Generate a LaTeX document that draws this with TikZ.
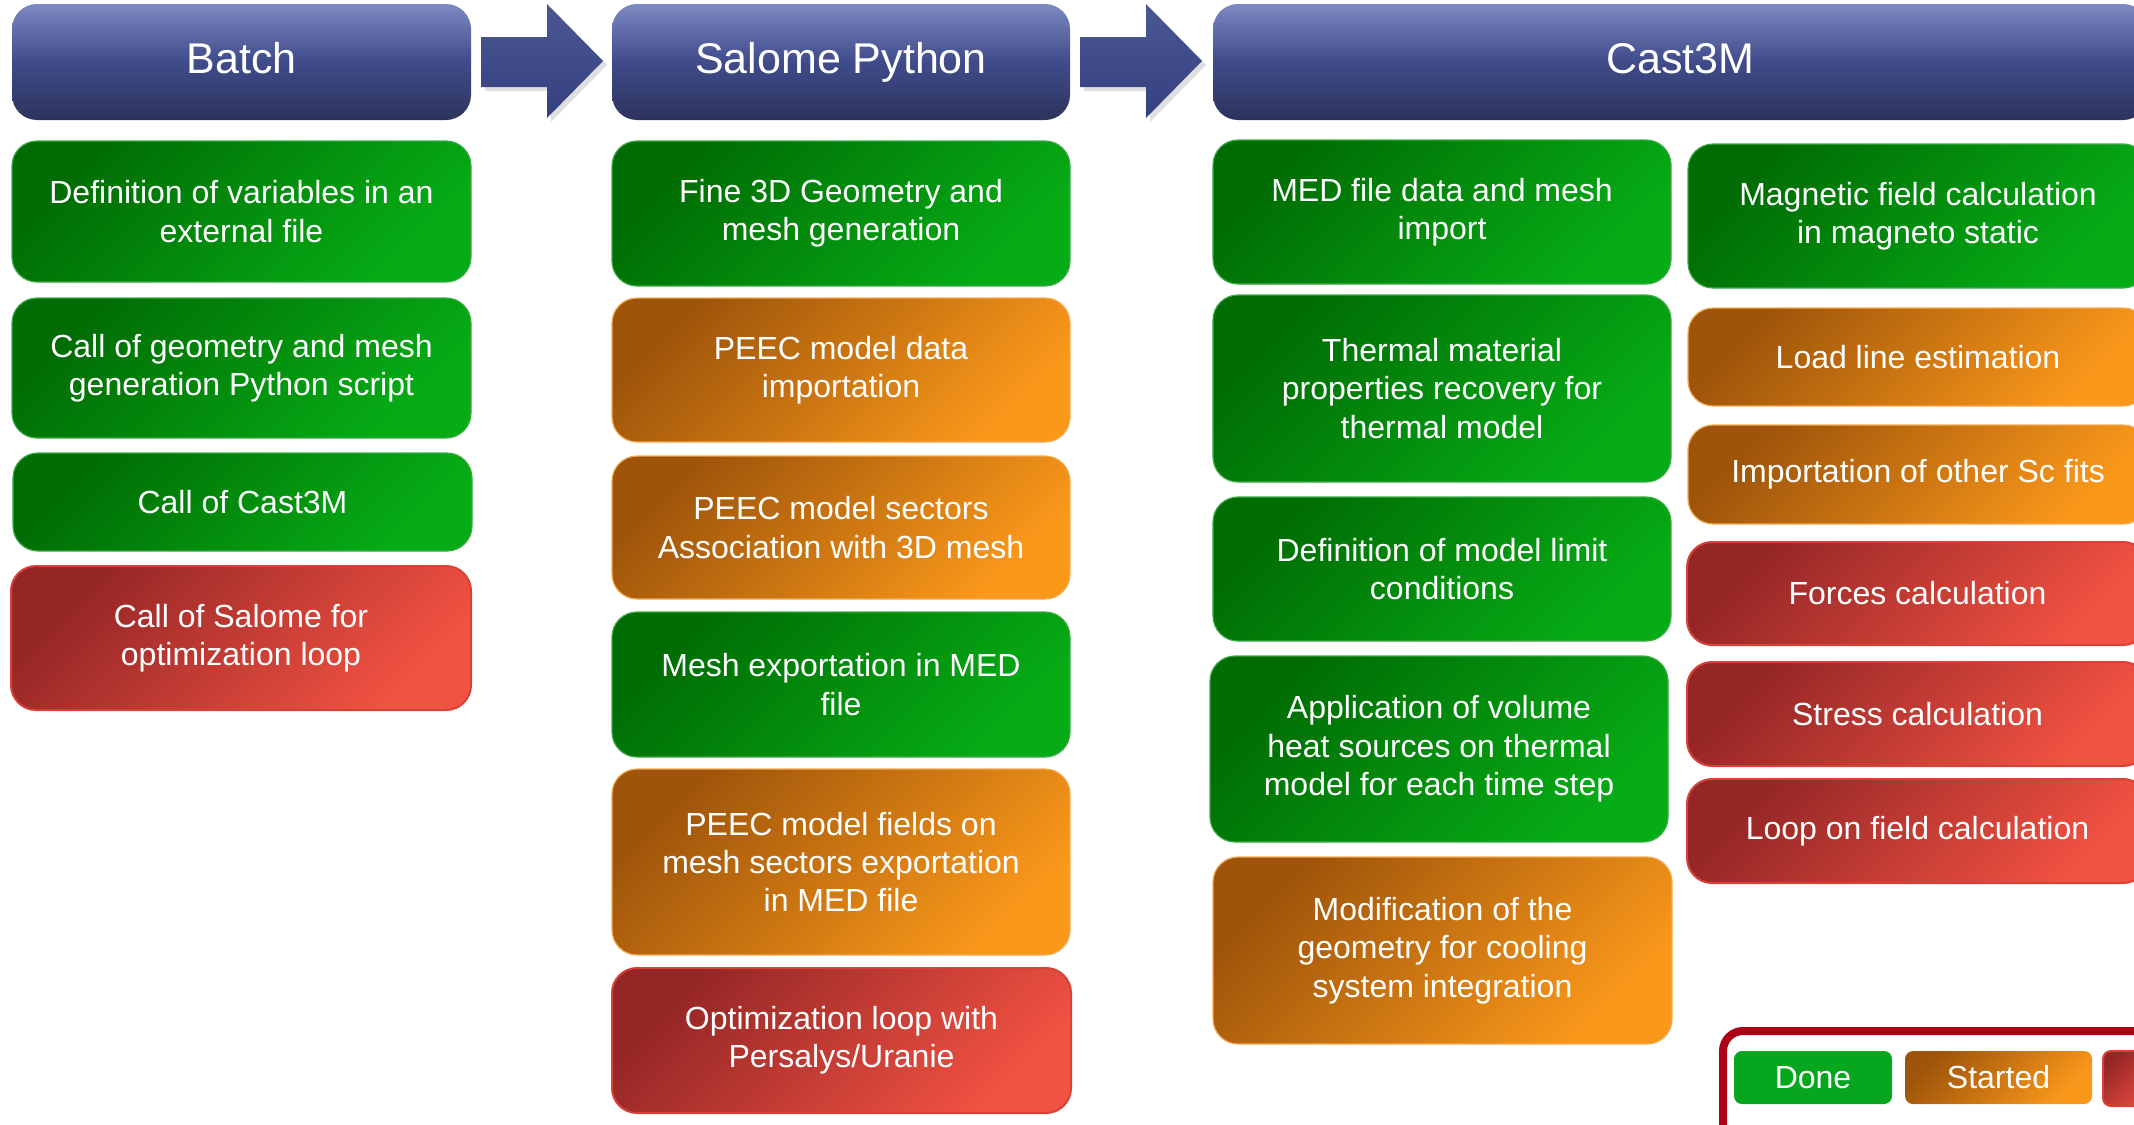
\documentclass[tikz,border=0pt]{standalone}
\usepackage{fontspec}
\setmainfont{Liberation Sans}
\usetikzlibrary{shadows}
\definecolor{hdtop}{RGB}{124,137,194}
\definecolor{hdmid}{RGB}{64,75,138}
\definecolor{hdbot}{RGB}{44,51,92}
\definecolor{gdark}{RGB}{0,108,4}
\definecolor{glight}{RGB}{6,172,22}
\definecolor{gline}{RGB}{60,170,70}
\definecolor{odark}{RGB}{158,84,10}
\definecolor{olight}{RGB}{250,152,26}
\definecolor{oline}{RGB}{245,170,80}
\definecolor{rdark}{RGB}{148,38,38}
\definecolor{rlight}{RGB}{242,82,66}
\definecolor{rline}{RGB}{215,65,55}
\definecolor{arrtop}{RGB}{76,88,146}
\definecolor{arrbot}{RGB}{52,64,128}
\definecolor{frame}{RGB}{172,0,20}
\definecolor{donegreen}{RGB}{6,166,30}
\newcommand\mybox[7]{%
  \pgfmathsetmacro\mycx{(#3+#5)/2}%
  \pgfmathsetmacro\mycy{(#4+#6)/2}%
  \pgfmathsetmacro\myw{(#5-#3)*0.5}%
  \pgfmathsetmacro\myh{(#6-#4)*0.5}%
  \node[#2, minimum width=\myw pt, minimum height=\myh pt] (#1) at (\mycx,\mycy) {#7};}
\tikzset{
  base/.style={rounded corners=12.5pt, text=white, align=center, inner sep=0pt,
    font=\fontsize{16}{19.2}\selectfont},
  header/.style={base, top color=hdtop, bottom color=hdbot, middle color=hdmid,
    font=\fontsize{21.5}{25}\selectfont, text height=15.5pt, text depth=4.5pt},
  gbox/.style={base, draw=gline, line width=0.6pt, top color=gdark, bottom color=glight, shading angle=45},
  obox/.style={base, draw=oline, line width=0.6pt, top color=odark, bottom color=olight, shading angle=45},
  rbox/.style={base, draw=rline, line width=1pt, top color=rdark, bottom color=rlight, shading angle=45},
  blockarrow/.style={top color=arrtop, bottom color=arrbot, draw=none,
    drop shadow={shadow xshift=2pt, shadow yshift=-2pt, opacity=0.25}},
}
\begin{document}
\begin{tikzpicture}[x=0.5pt, y=-0.5pt]
\useasboundingbox (0,0) rectangle (2134,1124);
\clip (0,0) rectangle (2134,1124);
% headers
\mybox{hbatch}{header}{12}{4}{471}{120}{Batch}
\mybox{hsalome}{header}{612}{4}{1070}{120}{Salome Python}
\mybox{hcast}{header}{1213}{4}{2148}{120}{Cast3M}
% block arrows
\path[blockarrow] (481,37) -- (547,37) -- (547,4) -- (603,61) -- (547,118) -- (547,87) -- (481,87) -- cycle;
\path[blockarrow] (1080,37) -- (1146,37) -- (1146,4) -- (1202,61) -- (1146,118) -- (1146,87) -- (1080,87) -- cycle;
% Batch column
\mybox{b1}{gbox}{12}{141}{471}{282}{Definition of variables in an\\external file}
\mybox{b2}{gbox}{12}{298}{471}{438}{Call of geometry and mesh\\generation Python script}
\mybox{b3}{gbox}{13}{453}{472}{551}{Call of Cast3M}
\mybox{b4}{rbox}{11}{566}{471}{710}{Call of Salome for\\optimization loop}
% Salome column
\mybox{s1}{gbox}{612}{141}{1070}{286}{Fine 3D Geometry and\\mesh generation}
\mybox{s2}{obox}{612}{298}{1070}{442}{PEEC model data\\importation}
\mybox{s3}{obox}{612}{456}{1070}{599}{PEEC model sectors\\Association with 3D mesh}
\mybox{s4}{gbox}{612}{612}{1070}{757}{Mesh exportation in MED\\file}
\mybox{s5}{obox}{612}{769}{1070}{955}{PEEC model fields on\\mesh sectors exportation\\in MED file}
\mybox{s6}{rbox}{612}{968}{1071}{1113}{Optimization loop with\\Persalys/Uranie}
% Cast3M left column
\mybox{c1}{gbox}{1213}{140}{1671}{284}{MED file data and mesh\\import}
\mybox{c2}{gbox}{1213}{295}{1671}{482}{Thermal material\\properties recovery for\\thermal model}
\mybox{c3}{gbox}{1213}{497}{1671}{641}{Definition of model limit\\conditions}
\mybox{c4}{gbox}{1210}{656}{1668}{842}{Application of volume\\heat sources on thermal\\model for each time step}
\mybox{c5}{obox}{1213}{857}{1672}{1044}{Modification of the\\geometry for cooling\\system integration}
% Cast3M right column
\mybox{d1}{gbox}{1688}{144}{2148}{288}{Magnetic field calculation\\in magneto static}
\mybox{d2}{obox}{1688}{308}{2148}{406}{Load line estimation}
\mybox{d3}{obox}{1688}{425}{2148}{524}{Importation of other Sc fits}
\mybox{d4}{rbox}{1687}{542}{2148}{645}{Forces calculation}
\mybox{d5}{rbox}{1687}{662}{2148}{766}{Stress calculation}
\mybox{d6}{rbox}{1687}{779}{2148}{883}{Loop on field calculation}
% legend
\draw[frame, line width=4pt, rounded corners=10pt] (1723,1031) rectangle (2170,1150);
\mybox{ldone}{base, fill=donegreen, rounded corners=4pt}{1734}{1051}{1892}{1104}{Done}
\mybox{lstart}{obox, draw=none, rounded corners=4pt}{1905}{1051}{2092}{1104}{Started}
\mybox{lnot}{rbox, rounded corners=4pt}{2103}{1051}{2170}{1106}{}
\end{tikzpicture}
\end{document}
